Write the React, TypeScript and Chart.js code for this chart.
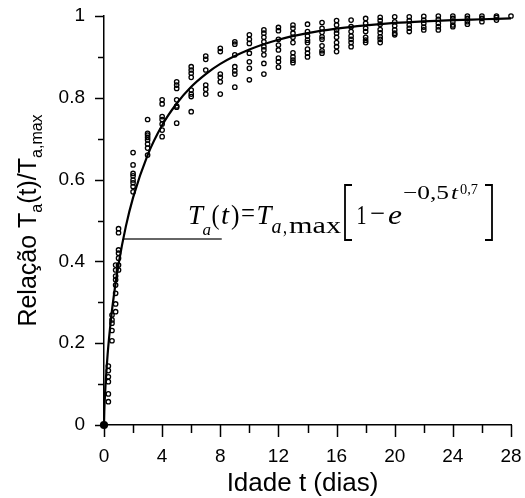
import { useEffect, useRef } from 'react';
import { Chart, registerables } from 'chart.js';

Chart.register(...registerables);

const X_MIN = 0;
const X_MAX = 28;
const X_STEP = 4;
const Y_MIN = 0;
const Y_MAX = 1;
const Y_STEP = 0.2;

// measured ages (days) of each sample group
const sampleAges = [0.3, 0.55, 0.8, 1, 2, 3, 4, 5, 6, 7, 8, 9, 10, 11, 12, 13, 14, 15, 16, 17, 18, 19, 20, 21, 22, 23, 24, 25, 26, 27, 28];
// measured ratios Ta(t)/Ta,max for each group
const sampleRatios = [
  [0.057, 0.076, 0.106, 0.118, 0.133, 0.144],
  [0.206, 0.231, 0.249, 0.257, 0.269],
  [0.277, 0.296, 0.322, 0.342, 0.355, 0.364, 0.379, 0.391],
  [0.379, 0.391, 0.408, 0.42, 0.428, 0.47, 0.48],
  [0.57, 0.583, 0.592, 0.599, 0.609, 0.615, 0.636, 0.666],
  [0.66, 0.677, 0.687, 0.697, 0.703, 0.709, 0.713, 0.747],
  [0.705, 0.721, 0.736, 0.747, 0.754, 0.785, 0.795],
  [0.738, 0.777, 0.78, 0.795, 0.823, 0.831, 0.839],
  [0.766, 0.803, 0.809, 0.819, 0.85, 0.86, 0.868, 0.876],
  [0.809, 0.821, 0.831, 0.868, 0.894, 0.902],
  [0.809, 0.839, 0.85, 0.858, 0.913, 0.921],
  [0.826, 0.858, 0.866, 0.876, 0.905, 0.931, 0.937],
  [0.844, 0.872, 0.888, 0.909, 0.933, 0.943, 0.954],
  [0.858, 0.884, 0.905, 0.917, 0.925, 0.937, 0.948, 0.958, 0.966],
  [0.875, 0.888, 0.897, 0.917, 0.929, 0.943, 0.964, 0.972],
  [0.886, 0.892, 0.9, 0.91, 0.935, 0.948, 0.958, 0.97, 0.978],
  [0.9, 0.909, 0.919, 0.935, 0.941, 0.951, 0.962, 0.98],
  [0.909, 0.915, 0.927, 0.943, 0.949, 0.96, 0.97, 0.984],
  [0.913, 0.925, 0.935, 0.948, 0.958, 0.966, 0.978, 0.989],
  [0.925, 0.935, 0.943, 0.951, 0.962, 0.974, 0.99],
  [0.935, 0.941, 0.948, 0.962, 0.97, 0.982, 0.994],
  [0.935, 0.943, 0.949, 0.959, 0.967, 0.98, 0.989, 0.997],
  [0.954, 0.958, 0.966, 0.976, 0.986, 0.998],
  [0.962, 0.97, 0.978, 0.989, 0.998],
  [0.966, 0.973, 0.982, 0.99, 0.999],
  [0.966, 0.974, 0.982, 0.992, 1.0],
  [0.974, 0.978, 0.986, 0.994, 1.0],
  [0.98, 0.986, 0.994, 1.0],
  [0.986, 0.994, 1.0],
  [0.99, 0.996, 1.0],
  [1.0],
];

// fitted curve
const curveAges = [0, 0.02, 0.05, 0.1, 0.25, 0.5, 0.75, 1, 1.5, 2, 3, 4, 5, 6, 7, 8, 10, 12, 14, 16, 18, 20, 22, 24, 26, 28];
const curveRatios = [0, 0.032, 0.06, 0.095, 0.173, 0.265, 0.335, 0.393, 0.485, 0.556, 0.66, 0.733, 0.786, 0.827, 0.858, 0.883, 0.918, 0.942, 0.958, 0.969, 0.977, 0.983, 0.987, 0.99, 0.992, 0.994];

// leader line to the equation
const leaderAges = [1.32, 8.1];
const leaderRatios = [0.455, 0.455];

const SANS = '"Liberation Sans", Arial, sans-serif';
const SERIF = '"Liberation Serif", "Times New Roman", serif';

type Piece = { t: string; x: number; w: number; y: number; font: string };

const eqPieces: Piece[] = [
  { t: 'T', x: 188, w: 15, y: 224, font: `italic 27px ${SERIF}` },
  { t: 'a', x: 202.5, w: 8.5, y: 235, font: `italic 17px ${SERIF}` },
  { t: '(', x: 211.5, w: 8, y: 224, font: `27px ${SERIF}` },
  { t: 't', x: 221, w: 8, y: 224, font: `italic 27px ${SERIF}` },
  { t: ')', x: 231, w: 8.5, y: 224, font: `27px ${SERIF}` },
  { t: '=', x: 241, w: 14, y: 222, font: `27px ${SERIF}` },
  { t: 'T', x: 256.5, w: 15, y: 224, font: `italic 27px ${SERIF}` },
  { t: 'a', x: 271.5, w: 10, y: 233, font: `italic 22px ${SERIF}` },
  { t: ',', x: 283, w: 4, y: 233, font: `22px ${SERIF}` },
  { t: 'max', x: 289, w: 52, y: 233, font: `24px ${SERIF}` },
  { t: '1', x: 356.5, w: 10, y: 224, font: `27px ${SERIF}` },
  { t: '\u2212', x: 370, w: 15, y: 222, font: `27px ${SERIF}` },
  { t: 'e', x: 388, w: 14, y: 224, font: `italic 27px ${SERIF}` },
  { t: '\u22120,5', x: 403, w: 46, y: 199, font: `19px ${SERIF}` },
  { t: 't', x: 451, w: 7, y: 199, font: `italic 19px ${SERIF}` },
  { t: '0,7', x: 460, w: 18, y: 194, font: `15px ${SERIF}` },
];

function drawStretched(ctx: CanvasRenderingContext2D, p: Piece) {
  ctx.font = p.font;
  const m = ctx.measureText(p.t).width;
  const s = m > 0 ? p.w / m : 1;
  ctx.save();
  ctx.translate(p.x, p.y);
  ctx.scale(s, 1);
  ctx.fillText(p.t, 0, 0);
  ctx.restore();
}

const decorPlugin = {
  id: 'decor',
  afterDraw(chart: any) {
    const ctx: CanvasRenderingContext2D = chart.ctx;
    const xs = chart.scales.x;
    const ys = chart.scales.y;
    ctx.save();
    ctx.strokeStyle = '#000';
    ctx.fillStyle = '#000';
    ctx.lineWidth = 1.5;
    // tick marks (major + minor)
    for (let v = X_MIN; v <= X_MAX + 1e-9; v += X_STEP / 2) {
      const px = Math.round(xs.getPixelForValue(v)) + 0.5;
      const len = Math.abs(v % X_STEP) < 1e-9 ? 12 : 8;
      ctx.beginPath();
      ctx.moveTo(px, ys.bottom);
      ctx.lineTo(px, ys.bottom + len);
      ctx.stroke();
    }
    for (let i = 0; i <= 10; i++) {
      const v = Y_MIN + (i * Y_STEP) / 2;
      const py = Math.round(ys.getPixelForValue(v)) + 0.5;
      const len = i % 2 === 0 ? 9 : 6;
      ctx.beginPath();
      ctx.moveTo(xs.left, py);
      ctx.lineTo(xs.left - len, py);
      ctx.stroke();
    }

    // x title
    ctx.font = `26px ${SANS}`;
    ctx.textAlign = 'center';
    ctx.textBaseline = 'alphabetic';
    ctx.fillText('Idade t (dias)', (xs.left + xs.right) / 2 - 5, 491);

    // y title (rotated, with subscripts)
    const main = `25px ${SANS}`;
    const sub = `16px ${SANS}`;
    const parts: [string, string, number][] = [
      ['Rela\u00e7\u00e3o T', main, 0],
      ['a', sub, 6],
      ['(t)/T', main, 0],
      ['a,max', sub, 6],
    ];
    let total = 0;
    const widths = parts.map(([t, f]) => {
      ctx.font = f;
      const w = ctx.measureText(t).width;
      total += w;
      return w;
    });
    ctx.save();
    ctx.translate(36, (ys.top + ys.bottom) / 2);
    ctx.rotate(-Math.PI / 2);
    ctx.textAlign = 'left';
    let cx = -total / 2;
    parts.forEach(([t, f, dy], i) => {
      ctx.font = f;
      ctx.fillText(t, cx, dy);
      cx += widths[i];
    });
    ctx.restore();

    // equation
    ctx.textAlign = 'left';
    ctx.textBaseline = 'alphabetic';
    eqPieces.forEach((p) => drawStretched(ctx, p));
    ctx.lineWidth = 1.8;
    ctx.beginPath();
    ctx.moveTo(352, 185);
    ctx.lineTo(345, 185);
    ctx.lineTo(345, 240);
    ctx.lineTo(352, 240);
    ctx.stroke();
    ctx.beginPath();
    ctx.moveTo(485, 185);
    ctx.lineTo(492, 185);
    ctx.lineTo(492, 240);
    ctx.lineTo(485, 240);
    ctx.stroke();
    ctx.restore();
  },
};

export default function App() {
  const ref = useRef<HTMLCanvasElement | null>(null);

  useEffect(() => {
    if (!ref.current) return;
    const samplePoints: { x: number; y: number }[] = [];
    sampleAges.forEach((age, i) => {
      sampleRatios[i].forEach((r) => samplePoints.push({ x: age, y: r }));
    });
    const curvePoints = curveAges.map((a, i) => ({ x: a, y: curveRatios[i] }));
    const leaderPoints = leaderAges.map((a, i) => ({ x: a, y: leaderRatios[i] }));

    const chart = new Chart(ref.current, {
      type: 'scatter',
      data: {
        datasets: [
          {
            label: 'Ajuste',
            data: curvePoints,
            showLine: true,
            borderColor: '#000',
            borderWidth: 2.2,
            cubicInterpolationMode: 'monotone',
            pointRadius: (c: any) => (c.dataIndex === 0 ? 3 : 0),
            pointBackgroundColor: '#000',
            pointBorderColor: '#000',
          } as any,
          {
            label: 'Guia',
            data: leaderPoints,
            showLine: true,
            borderColor: '#666',
            borderWidth: 2,
            pointRadius: 0,
          } as any,
          {
            label: 'Ensaios',
            data: samplePoints,
            pointRadius: 2.2,
            pointBorderWidth: 1.3,
            pointBorderColor: '#000',
            pointBackgroundColor: 'rgba(255,255,255,0)',
            showLine: false,
          } as any,
        ],
      },
      options: {
        responsive: false,
        animation: false,
        devicePixelRatio: 1,
        clip: false,
        layout: { padding: { left: 0, right: 14, top: 16, bottom: 0 } },
        plugins: { legend: { display: false }, tooltip: { enabled: false } },
        scales: {
          x: {
            type: 'linear',
            min: X_MIN,
            max: X_MAX,
            ticks: {
              stepSize: X_STEP,
              color: '#000',
              font: { family: SANS, size: 19 },
              padding: 20,
              maxRotation: 0,
            },
            grid: { display: true, drawOnChartArea: false, drawTicks: false },
            border: { display: true, color: '#000', width: 1.5 },
            afterFit: (s: any) => {
              s.height = 73;
              s.paddingLeft = 0;
              s.paddingRight = 0;
            },
          },
          y: {
            type: 'linear',
            min: Y_MIN,
            max: Y_MAX,
            ticks: {
              stepSize: Y_STEP,
              color: '#000',
              font: { family: SANS, size: 19 },
              padding: 19,
              callback: (v: any) => String(Number(Number(v).toFixed(1))),
            },
            grid: { display: true, drawOnChartArea: false, drawTicks: false },
            border: { display: true, color: '#000', width: 1.5 },
            afterFit: (s: any) => {
              s.width = 104;
              s.paddingTop = 0;
              s.paddingBottom = 0;
            },
          },
        },
      } as any,
      plugins: [decorPlugin],
    });
    return () => chart.destroy();
  }, []);

  return (
    <div style={{ position: 'absolute', left: 0, top: 0, width: 525, height: 498, background: '#fff' }}>
      <canvas ref={ref} width={525} height={498} style={{ width: 525, height: 498 }} />
    </div>
  );
}
